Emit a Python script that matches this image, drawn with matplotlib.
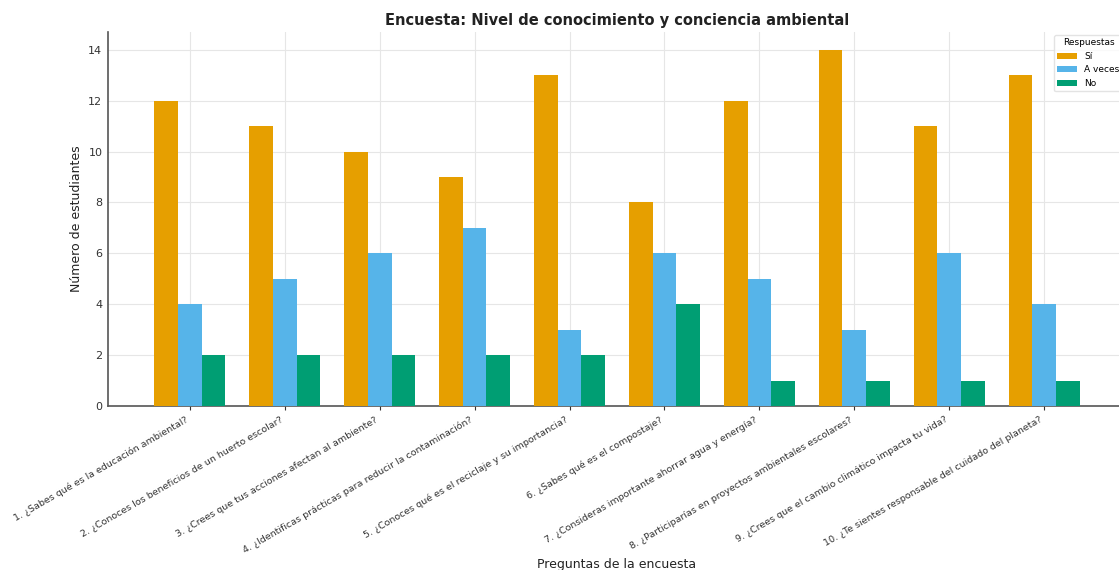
import matplotlib
matplotlib.use("Agg")
import matplotlib.pyplot as plt
import numpy as np

preguntas = [
    "1. ¿Sabes qué es la educación ambiental?",
    "2. ¿Conoces los beneficios de un huerto escolar?",
    "3. ¿Crees que tus acciones afectan al ambiente?",
    "4. ¿Identificas prácticas para reducir la contaminación?",
    "5. ¿Conoces qué es el reciclaje y su importancia?",
    "6. ¿Sabes qué es el compostaje?",
    "7. ¿Consideras importante ahorrar agua y energía?",
    "8. ¿Participarías en proyectos ambientales escolares?",
    "9. ¿Crees que el cambio climático impacta tu vida?",
    "10. ¿Te sientes responsable del cuidado del planeta?",
]
si = [12, 11, 10, 9, 13, 8, 12, 14, 11, 13]
a_veces = [4, 5, 6, 7, 3, 6, 5, 3, 6, 4]
no = [2, 2, 2, 2, 2, 4, 1, 1, 1, 1]
series_labels = ["Sí", "A veces", "No"]
colors = ["#E69F00", "#56B4E9", "#009E73"]

fig = plt.figure(figsize=(11.19, 5.70), dpi=100)
ax = fig.add_axes([108/1119, 1 - 406/570, (1126-108)/1119, (406-32)/570])

x = np.arange(len(preguntas))
w = 0.25
for i, (vals, lab, c) in enumerate(zip([si, a_veces, no], series_labels, colors)):
    ax.bar(x + (i - 1) * w, vals, w, label=lab, color=c, zorder=3)

ax.set_xticks(x)
ax.set_xticklabels(preguntas, rotation=30, ha="right", fontsize=6.8, color="#333333")
ax.tick_params(axis="y", labelsize=8, colors="#333333", length=0, pad=4)
ax.tick_params(axis="x", length=3, colors="#333333")
ax.grid(True, color="#e6e6e6", linewidth=0.8, zorder=0)
for s in ["top", "right"]:
    ax.spines[s].set_visible(False)
for s in ["left", "bottom"]:
    ax.spines[s].set_color("#555555")
    ax.spines[s].set_linewidth(1.2)

ax.set_ylabel("Número de estudiantes", fontsize=9, color="#222222", labelpad=4)
ax.set_xlabel("Preguntas de la encuesta", fontsize=9, color="#222222", labelpad=2)
ax.set_title("Encuesta: Nivel de conocimiento y conciencia ambiental", fontsize=10.5,
             fontweight="bold", color="#222222", pad=5)
ax.set_yticks(range(0, 15, 2))
leg = ax.legend(title="Respuestas", loc="upper right", fontsize=6.5, title_fontsize=6.5,
                frameon=True, borderaxespad=0.3, handlelength=2.2)
leg.get_frame().set_edgecolor("#dddddd")

fig.savefig("out.png", dpi=100)
